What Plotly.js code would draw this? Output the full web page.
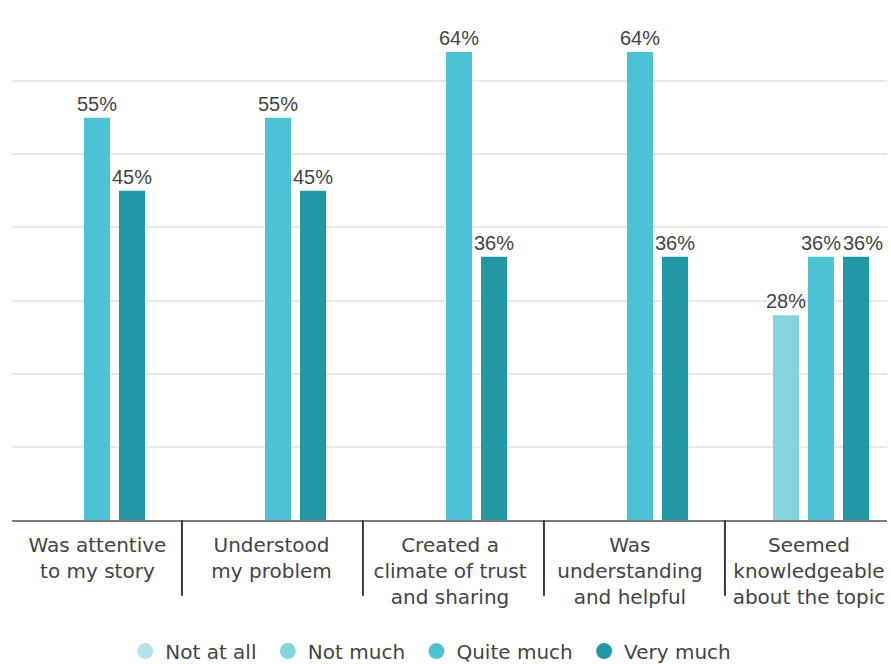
<!DOCTYPE html>
<html>
<head>
<meta charset="utf-8">
<script src="https://cdn.plot.ly/plotly-3.0.1.min.js"></script>
<style>html,body{margin:0;padding:0;background:#fff;}#chart{width:891px;height:664px;}</style>
</head>
<body>
<div id="chart"></div>
<script>
// ---- data ----
const categories = [
  "Was attentive<br>to my story",
  "Understood<br>my problem",
  "Created a<br>climate of trust<br>and sharing",
  "Was<br>understanding<br>and helpful",
  "Seemed<br>knowledgeable<br>about the topic"
];
const seriesNames = ["Not at all", "Not much", "Quite much", "Very much"];
const notAtAll  = [0, 0, 0, 0, 0];
const notMuch   = [0, 0, 0, 0, 28];
const quiteMuch = [55, 55, 64, 64, 36];
const veryMuch  = [45, 45, 36, 36, 36];
const seriesColors = ["#b7e1e8", "#86d3de", "#4cc3d5", "#2297a6"];

// ---- layout helpers ----
const xs = categories.map((_, i) => i);
const labelPos = [0.099, 1.061, 2.047, 3.041, 4.030];
const dividerPos = [0.566, 1.566, 2.566, 3.566];
const labelFont = "DejaVu Sans, sans-serif";
const slotPx = 35; // pixel distance between bars inside a group

const allSeries = [notAtAll, notMuch, quiteMuch, veryMuch];
const traces = allSeries.map((vals, k) => ({
  type: "bar",
  x: xs,
  y: vals,
  name: seriesNames[k],
  marker: {color: seriesColors[k]},
  showlegend: false,
  hoverinfo: "skip"
}));
// legend entries with circle symbols
seriesNames.forEach((n, k) => traces.push({
  type: "scatter", mode: "markers", x: [null], y: [null], name: n + "\u00a0",
  marker: {color: seriesColors[k], size: 20, symbol: "circle"},
  showlegend: true
}));

// value labels above bars
const annotations = [];
allSeries.forEach((vals, k) => {
  vals.forEach((v, i) => {
    if (!(v > 0)) return;
    const prev = k > 0 ? allSeries[k - 1][i] : 0;
    const nudge = (prev > 0 && Math.abs(prev - v) < 3) ? 7 : 0;
    annotations.push({
      x: xs[i], y: v, xref: "x", yref: "y",
      text: v + "%", showarrow: false,
      xanchor: "center", yanchor: "bottom",
      xshift: (k - 1.5) * slotPx + nudge, yshift: 1,
      font: {family: "Liberation Sans, Arial, sans-serif", size: 20, color: "#444444"}
    });
  });
});

const shapes = dividerPos.map(p => ({
  type: "line", xref: "x", yref: "paper", x0: p, x1: p, y0: 0, y1: -0.148,
  line: {color: "#3a3a3a", width: 2}
}));

const layout = {
  width: 891, height: 664,
  margin: {l: 12, r: 4, t: 8, b: 144, autoexpand: false},
  paper_bgcolor: "#ffffff", plot_bgcolor: "#ffffff",
  barmode: "group", bargap: 0.2265, bargroupgap: 0.257,
  font: {family: labelFont, color: "#444444", size: 20},
  xaxis: {
    range: [-0.3729, 4.4613], showgrid: false, zeroline: false,
    showline: true, linecolor: "#7a7a7a", linewidth: 2,
    tickmode: "array", tickvals: labelPos, ticktext: categories,
    ticks: "", ticklabelstandoff: 6,
    tickfont: {family: labelFont, size: 20, color: "#444444"},
    fixedrange: true, automargin: false
  },
  yaxis: {
    range: [0, 70], dtick: 10, showticklabels: false, zeroline: false,
    showgrid: true, gridcolor: "#e9e9e9", gridwidth: 2, showline: false, fixedrange: true
  },
  legend: {
    orientation: "h", x: 0.482, xanchor: "center", y: -0.256, yanchor: "middle",
    font: {family: labelFont, size: 20, color: "#444444"},
    itemclick: false
  },
  annotations: annotations,
  shapes: shapes,
  showlegend: true
};

Plotly.newPlot("chart", traces, layout, {displayModeBar: false, staticPlot: true});
</script>
</body>
</html>
